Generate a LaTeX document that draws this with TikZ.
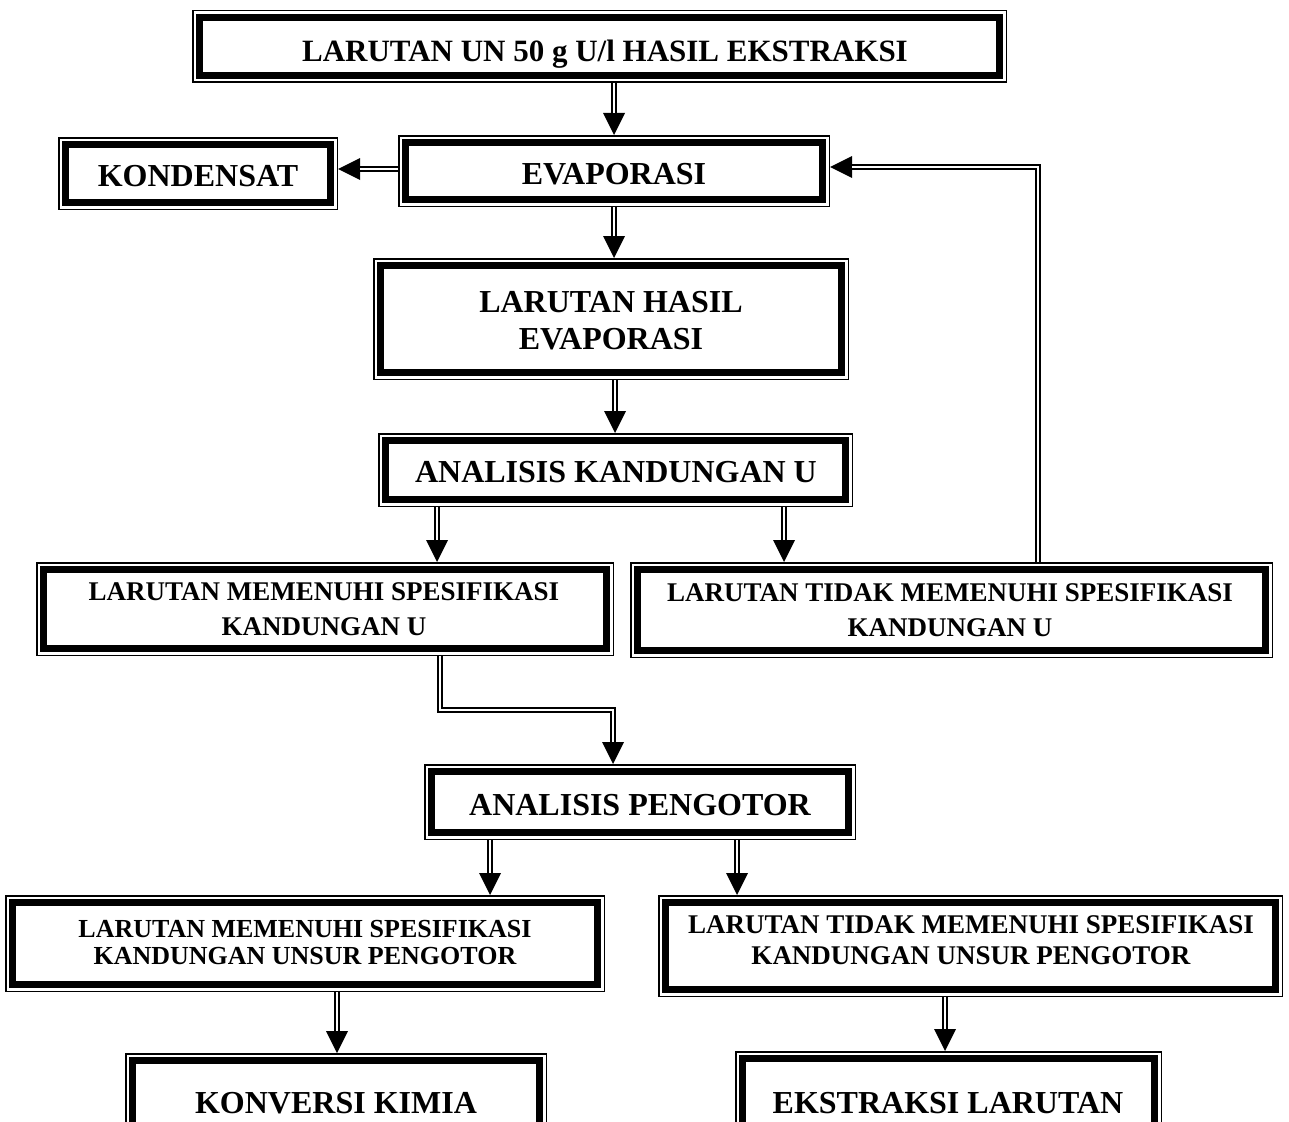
\documentclass[tikz,border=0pt]{standalone}
\usepackage{fontspec}
\setmainfont{Liberation Serif}
\usetikzlibrary{arrows.meta}
\begin{document}
\begin{tikzpicture}[x=1pt,y=-1pt,
  box/.style={draw=none, inner sep=0pt, outer sep=0pt},
  txt/.style={inner sep=0pt, align=center, text depth=0pt,
              font=\bfseries\fontsize{32}{37}\selectfont},
  smallU/.style={font=\bfseries\fontsize{27}{35}\selectfont},
  smallP/.style={font=\bfseries\fontsize{26}{27}\selectfont},
  smallQ/.style={font=\bfseries\fontsize{27}{31}\selectfont},
  arr/.style={line width=5.5pt, -{Triangle[length=22pt,width=22pt,line width=0pt]},
              postaction={draw=white, line width=2.5pt, -, shorten >=22pt}}]
\useasboundingbox (0,0) rectangle (1289,1121);
\clip (0,0) rectangle (1289,1121);

% boxes
\node[box, minimum width=815pt, minimum height=73pt] (top) at (599.5,46.5) {};
\node[box, minimum width=432pt, minimum height=72pt] (evap) at (614,171) {};
\node[box, minimum width=280pt, minimum height=73pt] (kond) at (198,173.5) {};
\node[box, minimum width=476pt, minimum height=122pt] (lhe) at (611,319) {};
\node[box, minimum width=475pt, minimum height=74pt] (aku) at (615.5,470) {};
\node[box, minimum width=578pt, minimum height=94pt] (lmu) at (325,609) {};
\node[box, minimum width=643pt, minimum height=96pt] (ltu) at (951.5,610) {};
\node[box, minimum width=432pt, minimum height=76pt] (ap) at (640,802) {};
\node[box, minimum width=600pt, minimum height=97pt] (lmp) at (305,943.5) {};
\node[box, minimum width=625pt, minimum height=102pt] (ltp) at (970.5,946) {};
\node[box, minimum width=422pt, minimum height=100pt] (kk) at (336,1103) {};
\node[box, minimum width=427pt, minimum height=100pt] (el) at (948.5,1101) {};

\foreach \n in {top,evap,kond,lhe,aku,lmu,ltu,ap,lmp,ltp,kk,el}{
  \draw[line width=1.5pt] ([shift={(0.75pt,-0.75pt)}]\n.north west) rectangle ([shift={(-0.75pt,0.75pt)}]\n.south east);
  \draw[line width=7pt] ([shift={(7.5pt,-7.5pt)}]\n.north west) rectangle ([shift={(-7.5pt,7.5pt)}]\n.south east);
}

% texts
\node[txt, font=\bfseries\fontsize{31}{36}\selectfont] (topT) at (605,51) {LARUTAN UN 50 g U/l HASIL EKSTRAKSI};
\node[txt] (evapT) at (614,174) {EVAPORASI};
\node[txt] (kondT) at (198,176) {KONDENSAT};
\node[txt] (lheT) at (611,320) {LARUTAN HASIL\\EVAPORASI};
\node[txt] (akuT) at (616,472) {ANALISIS KANDUNGAN U};
\node[txt, smallU] (lmuT) at (324,609) {LARUTAN MEMENUHI SPESIFIKASI\\KANDUNGAN U};
\node[txt, smallU] (ltuT) at (950,610) {LARUTAN TIDAK MEMENUHI SPESIFIKASI\\KANDUNGAN U};
\node[txt] (apT) at (640,805) {ANALISIS PENGOTOR};
\node[txt, smallP] (lmpT) at (305,942) {LARUTAN MEMENUHI SPESIFIKASI\\KANDUNGAN UNSUR PENGOTOR};
\node[txt, smallQ] (ltpT) at (971,940) {LARUTAN TIDAK MEMENUHI SPESIFIKASI\\KANDUNGAN UNSUR PENGOTOR};
\node[txt] (kkT) at (336,1103) {KONVERSI KIMIA};
\node[txt] (elT) at (948,1103) {EKSTRAKSI LARUTAN};

% connectors
\coordinate (xa) at (614,0);
\coordinate (xb) at (615,0);
\coordinate (xc) at (437,0);
\coordinate (xd) at (784,0);
\coordinate (bendA) at (440,710);
\coordinate (bendB) at (613,710);
\coordinate (xe) at (490,0);
\coordinate (xf) at (737,0);
\coordinate (xg) at (337,0);
\coordinate (xh) at (945,0);
\coordinate (fb) at (1038,167);
\coordinate (yk) at (0,169);

\draw[arr] (top.south -| xa) -- (evap.north -| xa);
\draw[arr] (evap.west |- yk) -- (kond.east |- yk);
\draw[arr] (evap.south -| xa) -- (lhe.north -| xa);
\draw[arr] (lhe.south -| xb) -- (aku.north -| xb);
\draw[arr] (aku.south -| xc) -- (lmu.north -| xc);
\draw[arr] (aku.south -| xd) -- (ltu.north -| xd);
\draw[arr] (ltu.north -| fb) -- (fb) -- (evap.east |- fb);
\draw[arr] (lmu.south -| bendA) -- (bendA) -- (bendB) -- (ap.north -| bendB);
\draw[arr] (ap.south -| xe) -- (lmp.north -| xe);
\draw[arr] (ap.south -| xf) -- (ltp.north -| xf);
\draw[arr] (lmp.south -| xg) -- (kk.north -| xg);
\draw[arr] (ltp.south -| xh) -- (el.north -| xh);
\end{tikzpicture}
\end{document}
